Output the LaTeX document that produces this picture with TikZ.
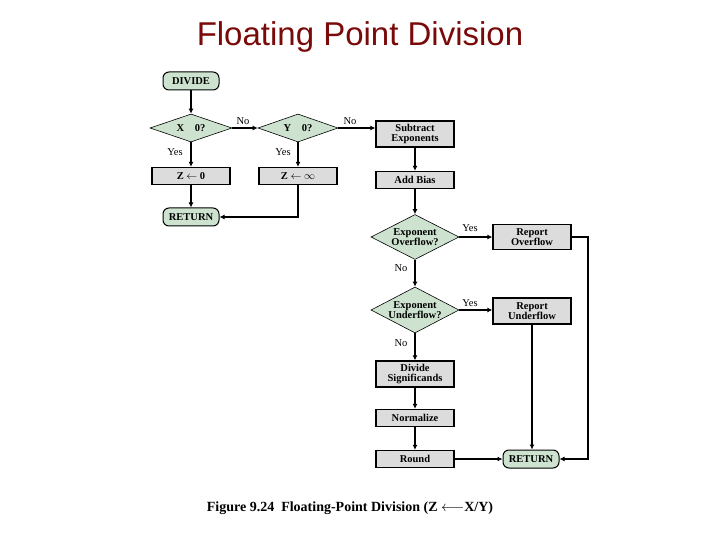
\documentclass[tikz,border=0pt]{standalone}
\usepackage{fontspec}
\setmainfont{Liberation Serif}
\newfontfamily\titlefont{Liberation Sans}
\usetikzlibrary{shapes.geometric,arrows.meta}
\definecolor{dgreen}{HTML}{CDE3D0}
\definecolor{bgray}{HTML}{DCDCDC}
\definecolor{titlered}{HTML}{7A0A0A}
\tikzset{
  box/.style={draw, line width=1.3pt, fill=bgray, minimum width=78pt, inner sep=1pt, align=center, font=\bfseries\fontsize{10.5}{10.5}\selectfont},
  term/.style={draw, line width=1pt, fill=dgreen, rounded corners=6pt, minimum width=56pt, minimum height=18pt, inner sep=1pt, font=\bfseries\fontsize{10.5}{11}\selectfont},
  dec/.style={diamond, draw, line width=0.6pt, fill=dgreen, inner xsep=-9pt, inner ysep=-3pt, aspect=2, align=center, font=\bfseries\fontsize{10.5}{10.5}\selectfont},
  conn/.style={line width=1.2pt, -{Latex[length=5pt,width=5pt]}},
  lbl/.style={font=\fontsize{10.5}{11}\selectfont, inner sep=0pt}
}
\begin{document}
\begin{tikzpicture}[x=1pt,y=-1pt]
\useasboundingbox (0,0) rectangle (720,540);
\node[text=titlered, font=\titlefont\fontsize{33}{36}\selectfont] (title) at (360,37) {Floating Point Division};

\node[term] (divide) at (191,81) {DIVIDE};
\node[dec, minimum width=82pt, minimum height=28pt] (dx) at (191,128) {X\quad 0?};
\node[dec, minimum width=80pt, minimum height=28pt] (dy) at (298,128) {Y\quad 0?};
\node[box, minimum height=17pt] (z0) at (191,176) {Z $\leftarrow$ 0};
\node[box, minimum height=17pt] (zinf) at (298,176) {Z $\leftarrow$ $\infty$};
\node[term] (ret1) at (191,217) {RETURN};

\node[box, minimum height=26pt] (sub) at (415,134) {Subtract\\Exponents};
\node[box, minimum height=17pt] (bias) at (415,180) {Add Bias};
\node[dec, minimum width=88pt, minimum height=45pt] (ovf) at (415,237) {Exponent\\Overflow?};
\node[box, minimum height=25pt] (rovf) at (532,237) {Report\\Overflow};
\node[dec, minimum width=88pt, minimum height=46pt] (unf) at (415,310) {Exponent\\Underflow?};
\node[box, minimum height=26pt] (runf) at (532,311) {Report\\Underflow};
\node[box, minimum height=26pt] (sig) at (415,374) {Divide\\Significands};
\node[box, minimum height=17pt] (norm) at (415,418) {Normalize};
\node[box, minimum height=17pt] (round) at (415,459) {Round};
\node[term] (ret2) at (531,459) {RETURN};

\node[font=\bfseries\fontsize{14}{16}\selectfont] (cap) at (350,508) {Figure 9.24\ \ Floating-Point Division (Z $\longleftarrow$X/Y)};

% connectors
\draw[conn] (divide) -- (dx);
\draw[conn] (dx) -- (dy);
\draw[conn] (dy) -- (sub.west |- dy);
\draw[conn] (dx) -- (z0);
\draw[conn] (dy) -- (zinf);
\draw[conn] (z0) -- (ret1);
\draw[conn] (zinf.south) |- (ret1.east);
\draw[conn] (sub) -- (bias);
\draw[conn] (bias) -- (ovf);
\draw[conn] (ovf) -- (rovf);
\draw[conn] (ovf) -- (unf);
\draw[conn] (unf) -- (runf.west |- unf);
\draw[conn] (unf) -- (sig);
\draw[conn] (sig) -- (norm);
\draw[conn] (norm) -- (round);
\draw[conn] (round) -- (ret2);
\draw[conn] (runf.south) -- (runf.south |- ret2.north);
\coordinate (c1) at (588,237);
\draw[conn] (rovf.east) -- (c1) |- (ret2.east);

% labels
\node[lbl] (n1) at (243,121) {No};
\node[lbl] (n2) at (350,121) {No};
\node[lbl] (y1) at (175,152) {Yes};
\node[lbl] (y2) at (283,152) {Yes};
\node[lbl] (y3) at (470,228) {Yes};
\node[lbl] (n3) at (401,268) {No};
\node[lbl] (y4) at (470,303) {Yes};
\node[lbl] (n4) at (401,343) {No};
\end{tikzpicture}
\end{document}
